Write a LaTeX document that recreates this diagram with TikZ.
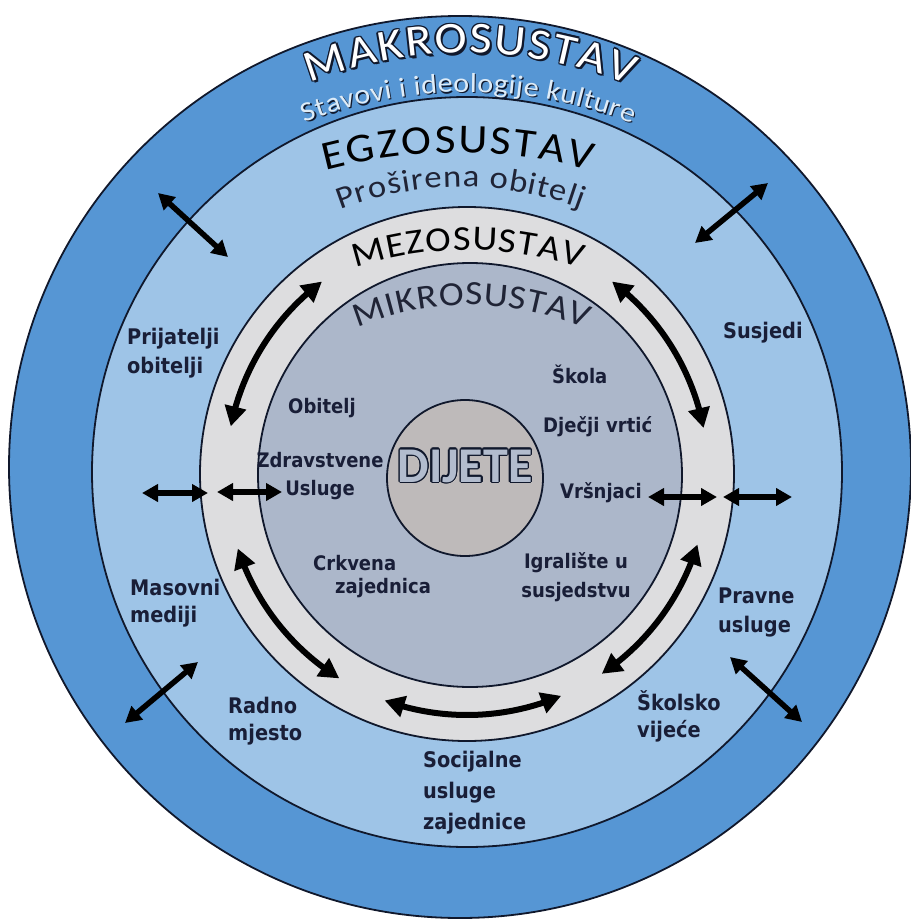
\documentclass[tikz,border=0pt]{standalone}
\usepackage{fontspec}
\usepackage{contour}
\newfontfamily\archfont{Carlito}[FakeStretch=1.1]
\newfontfamily\childfont{Carlito}
\newfontfamily\labelfont{DejaVu Sans}[FakeStretch=0.9]
\usetikzlibrary{arrows.meta, bending, decorations.text}

\definecolor{makroblue}{RGB}{86,150,212}
\definecolor{egzoblue}{RGB}{158,196,231}
\definecolor{mezogray}{RGB}{221,221,223}
\definecolor{mikrogray}{RGB}{172,183,202}
\definecolor{childgray}{RGB}{190,186,186}
\definecolor{childink}{RGB}{178,188,206}
\definecolor{rimline}{RGB}{16,24,44}
\definecolor{labelnavy}{RGB}{25,30,55}
\definecolor{paleblue}{RGB}{222,236,248}
\definecolor{slate}{RGB}{32,36,54}

\newcommand{\makrofont}{\archfont\fontsize{44}{44}\selectfont}
\newcommand{\kulturafont}{\archfont\fontsize{27.5}{28}\selectfont}
\newcommand{\egzofont}{\archfont\fontsize{41}{41}\selectfont}
\newcommand{\obiteljfont}{\archfont\fontsize{31.5}{32}\selectfont}
\newcommand{\mezofont}{\archfont\fontsize{35}{35}\selectfont}
\newcommand{\mikrofont}{\archfont\fontsize{34}{34}\selectfont}
\contourlength{1.4pt}

\begin{document}
\begin{tikzpicture}[x=1pt, y=-1pt]
        % Setup the styles
        \tikzset{ring/.style={draw=rimline, line width=1.8pt}}
        \tikzset{band arrow/.style={draw=black, line width=6pt,
                                    {Triangle[length=20pt,width=21pt]}-{Triangle[length=20pt,width=21pt]}}}
        \tikzset{link arrow/.style={draw=black, line width=5.5pt,
                                    {Triangle[length=16pt,width=17pt]}-{Triangle[length=16pt,width=17pt]}}}
        \tikzset{outer label/.style={font=\labelfont\bfseries\fontsize{21.5}{29}\selectfont,
                                     text=labelnavy, inner sep=0pt, text width=140pt,
                                     align=left, anchor=base west}}
        \tikzset{inner label/.style={outer label,
                                     font=\labelfont\bfseries\fontsize{20}{28}\selectfont}}
        \tikzset{arch/.style={decorate, decoration={text along path, text align=fit to path, text={#1}}}}
        \tikzset{child text/.style={font=\childfont\bfseries\fontsize{50}{50}\selectfont,
                                    text=childink, inner sep=0pt, anchor=base}}

        \useasboundingbox (0,0) rectangle (910,923);
        \fill[white] (0,0) rectangle (910,923);

        % Draw the rings, outside in
        \draw[ring, fill=makroblue] (460,467) circle[radius=451];
        \draw[ring, fill=egzoblue] (467,472) circle[radius=375];

        % Egzosustav labels
        \node[outer label] at (127,344) (prijatelji) {Prijatelji\\obitelji};
        \node[outer label] at (723,338) (susjedi) {Susjedi};
        \node[outer label] at (130,595) (mediji) {Masovni\\[-2pt]mediji};
        \node[outer label] at (718,603) (pravne) {Pravne\\usluge};
        \node[outer label] at (228,713) (radno) {Radno\\[-2pt]mjesto};
        \node[outer label] at (637,710) (vijece) {Školsko\\[-2pt]vijeće};
        \node[outer label] at (423,767) (socijalne) {Socijalne\\[2pt]usluge\\[2pt]zajednice};

        \draw[ring, fill=mezogray] (467,474) circle[radius=267];
        \draw[ring, fill=mikrogray] (470,475) circle[radius=212];
        \draw[ring, fill=childgray] (465,478) circle[radius=78];
        \coordinate (hub) at (467,474);

        % Mikrosustav labels
        \node[inner label] at (552,383) (skola) {Škola};
        \node[inner label] at (288,413) (obitelj) {Obitelj};
        \node[inner label] at (543,432) (vrtic) {Dječji vrtić};
        \node[inner label, align=center, anchor=base] at (320,467) (zdravstvo) {Zdravstvene\\Usluge};
        \node[inner label] at (560,498) (vrsnjaci) {Vršnjaci};
        \node[inner label] at (313,570) (crkvena) {Crkvena};
        \node[inner label] at (335,593) (zajednica) {zajednica};
        \node[inner label, align=center, anchor=base] at (576,568) (igraliste) {Igralište u\\[1pt]susjedstvu};

        \node[child text] at (465,482) (dijete) {\contour{rimline}{DIJETE}};

        % Arched titles (rim copies first, letters last)
        \foreach \dx/\dy/\ink in {1.5/0/rimline, -1.5/0/rimline, 0/1.5/rimline, 0/-1.5/rimline,
                                  1.1/1.1/rimline, -1.1/-1.1/rimline, 1.1/-1.1/rimline,
                                  -1.1/1.1/rimline, 2/2.2/rimline, 0/0/white}
            \path[shift={(\dx,\dy)}, arch={|\makrofont\color{\ink}|MAKROSUSTAV}]
                ([shift={(-111.4:430)}]467,483) arc[start angle=-111.4, end angle=-67.7, radius=430];
        \foreach \dx/\dy/\ink in {1.2/1.3/rimline, 0/0/paleblue}
            \path[shift={(\dx,\dy)}, arch={|\kulturafont\color{\ink}|Stavovi i ideologije kulture}]
                ([shift={(-111.1:450)}]467,542) arc[start angle=-111.1, end angle=-68.5, radius=450];
        \path[arch={|\egzofont\color{black}|EGZOSUSTAV}]
            ([shift={(-104.8:520)}]458,673) arc[start angle=-104.8, end angle=-75.3, radius=520];
        \path[arch={|\obiteljfont\color{slate}|Proširena obitelj}]
            ([shift={(-111:340)}]462,527) arc[start angle=-111, end angle=-69.4, radius=340];
        \path[arch={|\mezofont\color{black}|MEZOSUSTAV}]
            ([shift={(-108.1:360)}]467,610) arc[start angle=-108.1, end angle=-71.7, radius=360];
        \path[arch={|\mikrofont\color{slate}|MIKROSUSTAV}]
            ([shift={(-112.7:290)}]470,595) arc[start angle=-112.7, end angle=-66.6, radius=290];

        % Arrows round the mezosustav
        \foreach \from/\to in {-127/-168.6, -53/-11, 162/122, 56/17, 110/67}
            \draw[band arrow] ([shift={(\from:241)}]hub) arc[start angle=\from, end angle=\to, radius=241];

        % Links between the rings
        \coordinate (nwA) at (158,193);  \coordinate (nwB) at (228,257);
        \coordinate (neA) at (768,183);  \coordinate (neB) at (695,243);
        \coordinate (swA) at (125,723);  \coordinate (swB) at (198,662);
        \coordinate (seA) at (802,722);  \coordinate (seB) at (730,657);
        \coordinate (wA) at (142,493);   \coordinate (wB) at (208,493);
        \coordinate (wC) at (217,492);   \coordinate (wD) at (282,492);
        \coordinate (eA) at (648,497);   \coordinate (eB) at (717,497);
        \coordinate (eC) at (723,497);   \coordinate (eD) at (792,497);
        \path (nwA) edge[link arrow] (nwB)
              (neA) edge[link arrow] (neB)
              (swA) edge[link arrow] (swB)
              (seA) edge[link arrow] (seB)
              (wA)  edge[link arrow] (wB)
              (wC)  edge[link arrow] (wD)
              (eA)  edge[link arrow] (eB)
              (eC)  edge[link arrow] (eD);
\end{tikzpicture}
\end{document}
